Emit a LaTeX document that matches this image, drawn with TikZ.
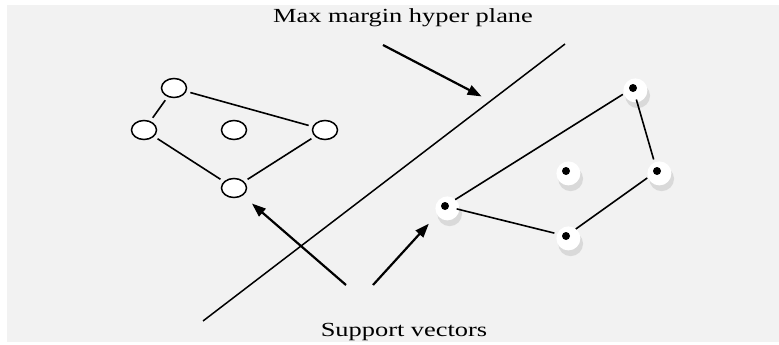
\documentclass[tikz,border=0pt]{standalone}
\usepackage{fontspec}
\setmainfont{Liberation Serif}
\usetikzlibrary{arrows.meta,shapes.geometric,shadows}
\definecolor{paper}{HTML}{F2F2F2}
\begin{document}
\begin{tikzpicture}
	[x=1pt,y=-1pt,>={Triangle[length=14pt,width=10pt]},
	open/.style={ellipse,draw,fill=white,line width=1.5pt,minimum width=25pt,minimum height=19pt,inner sep=0pt},
	sv/.style={circle,fill=black,minimum size=8pt,inner sep=0pt,outer sep=4pt,
		general shadow={shadow scale=3.1,shadow xshift=1.5pt,shadow yshift=-2.5pt,fill=gray!45,opacity=.55},
		general shadow={shadow scale=3,shadow xshift=0.8pt,shadow yshift=-0.8pt,fill=white}},
	edge/.style={line width=1.6pt,shorten <=4pt,shorten >=4pt},
	pointer/.style={->,line width=2.2pt},
	caption/.style={font=\fontsize{20}{24}\selectfont,xscale=1.32,transform shape}]
\useasboundingbox (0,0) rectangle (779,345);
\fill[white] (0,0) rectangle (779,345);
\fill[paper] (7,5) rectangle (779,342);
% left class
\node[open] (a) at (174,88) {};
\node[open] (b) at (144,130) {};
\node[open] (c) at (234,130) {};
\node[open] (d) at (325,130) {};
\node[open] (e) at (234,188) {};
\draw[edge] (a)--(b);
\draw[edge] (a)--(d);
\draw[edge] (b)--(e);
\draw[edge] (e)--(d);
% right class
\node[sv] (p) at (633,88) {};
\node[sv] (q) at (566,171) {};
\node[sv] (r) at (657,171) {};
\node[sv] (s) at (445,206) {};
\node[sv] (t) at (566,236) {};
\draw[edge] (s)--(p);
\draw[edge] (p)--(r);
\draw[edge] (r)--(t);
\draw[edge] (t)--(s);
% hyper plane
\coordinate (h1) at (203,321);
\coordinate (h2) at (565,44);
\draw[line width=1.5pt] (h1)--coordinate[pos=.794] (hp) (h2);
% labels
\node[caption] (top) at (403,18) {Max margin hyper plane};
\node[caption] (bottom) at (404,332) {Support vectors};
\coordinate (m1) at (383,45);
\coordinate (m2) at (346,285);
\coordinate (m3) at (373,285);
\draw[pointer,shorten >=10pt] (m1)--(hp);
\draw[pointer,shorten >=12pt] (m2)--(e);
\draw[pointer,shorten >=16pt] (m3)--(s);
\end{tikzpicture}
\end{document}
